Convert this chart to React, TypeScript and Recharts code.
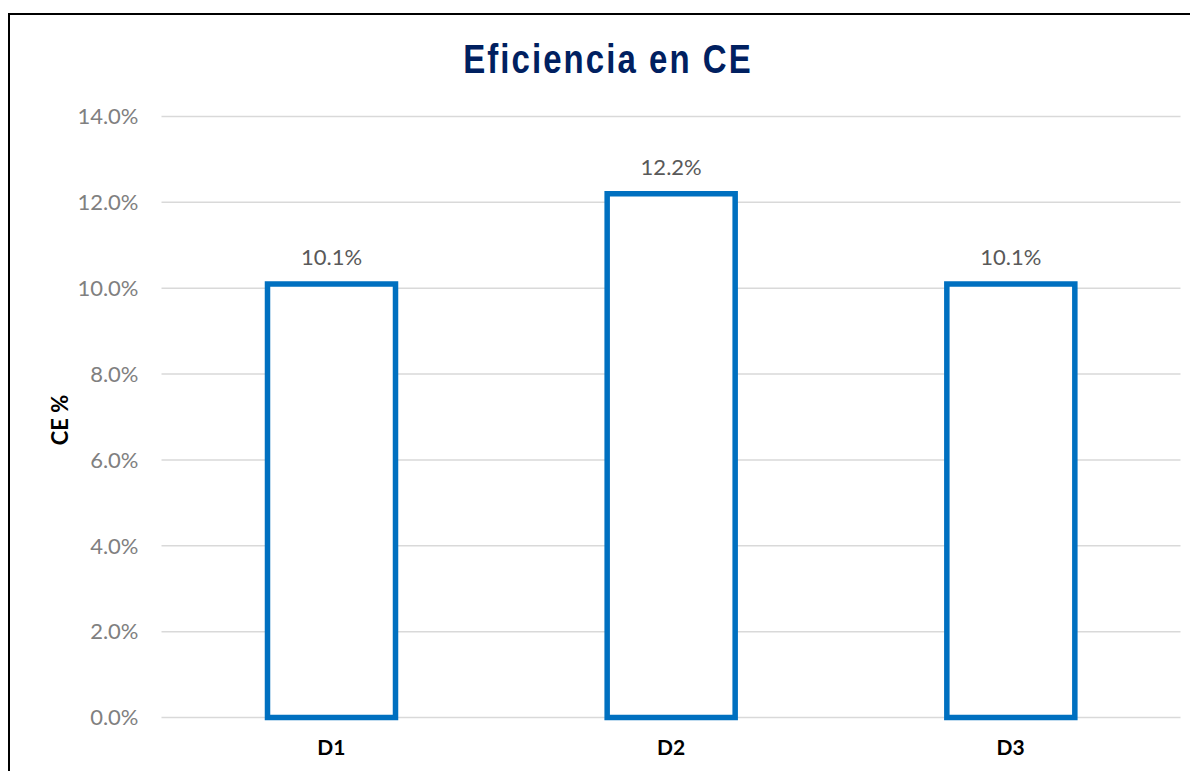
import React from 'react';
import { BarChart, Bar, XAxis, YAxis, CartesianGrid, LabelList } from 'recharts';

const categories = ['D1', 'D2', 'D3'];
const efficiency = [10.1, 12.2, 10.1];
const yTicks = [0, 2, 4, 6, 8, 10, 12, 14];

const data = categories.map((name, i) => ({ name, ce: efficiency[i] }));

const pct = (v: number) => `${Number(v).toFixed(1)}%`;

export default function App() {
  return (
    <div style={{ position: 'relative', width: 1190, height: 763, overflow: 'hidden', fontFamily: 'Lato, sans-serif' }}>
      <div
        style={{
          position: 'absolute',
          left: 0,
          top: 5,
          width: 1300,
          height: 900,
          border: '2px solid #000',
        }}
      />
      <div
        style={{
          position: 'absolute',
          left: 0,
          top: 31,
          width: 1200,
          textAlign: 'center',
          fontFamily: '"Liberation Sans", Arial, sans-serif',
          fontWeight: 700,
          fontSize: 40,
          lineHeight: '40px',
          letterSpacing: 2.5,
          color: '#002060',
          transform: 'scaleX(0.824)',
        }}
      >
        Eficiencia en CE
      </div>
      <div
        style={{
          position: 'absolute',
          left: 51,
          top: 412,
          transform: 'translate(-50%, -50%) rotate(-90deg)',
          whiteSpace: 'nowrap',
          fontWeight: 700,
          fontSize: 22,
          color: '#000',
        }}
      >
        CE %
      </div>
      <div style={{ position: 'absolute', left: 0, top: 0 }}>
        <BarChart
          width={1190}
          height={763}
          data={data}
          margin={{ top: 108.5, right: 17.5, bottom: 0, left: 0 }}
          barSize={128}
        >
          <CartesianGrid vertical={false} stroke="#D9D9D9" strokeWidth={1.5} />
          <XAxis
            dataKey="name"
            height={53.5}
            axisLine={false}
            tickLine={false}
            tickSize={0}
            tickMargin={23}
            tick={{ fill: '#000', fontSize: 21, fontWeight: 700 }}
          />
          <YAxis
            width={153.5}
            domain={[0, 14]}
            ticks={yTicks}
            tickFormatter={pct}
            axisLine={false}
            tickLine={false}
            tickSize={0}
            tickMargin={23}
            tick={{ fill: '#808080', fontSize: 22 }}
          />
          <Bar dataKey="ce" fill="#fff" stroke="#0070C0" strokeWidth={5.5} isAnimationActive={false}>
            <LabelList dataKey="ce" position="top" offset={19} formatter={pct} fill="#595959" fontSize={22} />
          </Bar>
        </BarChart>
      </div>
    </div>
  );
}
